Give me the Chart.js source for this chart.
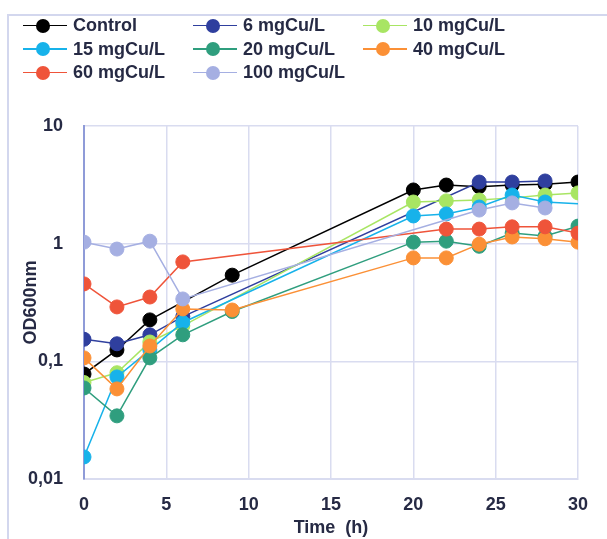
<!DOCTYPE html>
<html>
<head>
<meta charset="utf-8">
<script src="https://cdn.jsdelivr.net/npm/chart.js@4"></script>
<style>
  html, body { margin: 0; padding: 0; background: #fff; overflow: hidden; }
  #wrap { position: relative; width: 607px; height: 539px; }
  #frame { position: absolute; left: 7px; top: 14px; width: 700px; height: 600px;
           border: 2px solid #d3d7ee; box-sizing: border-box; }
  #chart { position: absolute; left: 0; top: 0; }
  #legend { position: absolute; left: 23px; top: 14px;
            display: grid; grid-template-columns: repeat(3, 170px); grid-auto-rows: 23.5px;
            font: bold 18px "Liberation Sans", Arial, sans-serif; color: #262a44; }
  .item { display: flex; align-items: center; white-space: nowrap; }
  .key { position: relative; width: 44px; height: 16px; margin-right: 6px; }
  .key .ln { position: absolute; left: 0; right: 0; top: 7px; height: 1.5px; }
  .key .dot { position: absolute; left: 13px; top: 1px; width: 14px; height: 14px; border-radius: 50%; }
</style>
</head>
<body>
<div id="wrap">
  <div id="frame"></div>
  <canvas id="chart" width="607" height="539"></canvas>
  <div id="legend"></div>
</div>
<script>
// sampling times (h)
const hours = [0, 2, 4, 6, 9, 20, 22, 24, 26, 28, 30];

// OD600 per copper level, null = not sampled
const control = [0.078, 0.125, 0.225, null, 0.54, 2.86, 3.15, 3.05, 3.15, 3.2, 3.34];
const cu6     = [0.154, 0.141, 0.168, 0.24, null, null, null, 3.34, 3.34, 3.41, null];
const cu10    = [0.066, 0.080, 0.146, 0.2, null, 2.26, 2.31, 2.35, 2.45, 2.59, 2.70];
const cu15    = [0.0154, 0.0737, 0.125, 0.214, null, 1.72, 1.79, 2.05, 2.59, 2.26, 2.18];
const cu20    = [0.0594, 0.0344, 0.107, 0.168, 0.265, 1.03, 1.05, 0.95, 1.23, 1.16, 1.41];
const cu40    = [0.107, 0.0583, 0.135, 0.279, 0.273, 0.757, 0.757, 0.99, 1.14, 1.10, 1.03];
const cu60    = [0.455, 0.29, 0.352, 0.70, null, null, 1.33, 1.33, 1.39, 1.39, 1.23];
const cu100   = [1.03, 0.90, 1.05, 0.339, null, null, null, 1.93, 2.22, 2.01, null];

const seriesNames = ["Control", "6 mgCu/L", "10 mgCu/L", "15 mgCu/L", "20 mgCu/L", "40 mgCu/L", "60 mgCu/L", "100 mgCu/L"];
const seriesValues = [control, cu6, cu10, cu15, cu20, cu40, cu60, cu100];
const seriesColors = ["#000000", "#2f3f9e", "#a8e563", "#17b2ea", "#2f9e7e", "#fb9036", "#ef543a", "#a5afe2"];

const yTicks = [0.01, 0.1, 1, 10];
const yTickText = ["0,01", "0,1", "1", "10"];

const font = { family: "'Liberation Sans', Arial, sans-serif", size: 18, weight: "bold" };
const ink = "#262a44";

const datasets = seriesNames.map(function (name, i) {
  return {
    label: name,
    data: hours.map(function (h, k) { return { x: h, y: seriesValues[i][k] }; })
               .filter(function (p) { return p.y !== null; }),
    borderColor: seriesColors[i],
    backgroundColor: seriesColors[i],
    borderWidth: 1.5,
    pointBackgroundColor: seriesColors[i],
    pointBorderColor: seriesColors[i],
    pointBorderWidth: 1,
    // last 15 mgCu/L reading has no marker
    pointRadius: function (ctx) {
      return (i === 3 && ctx.raw && ctx.raw.x === 30) ? 0 : 7;
    },
    tension: 0,
    order: seriesNames.length - i   // later series drawn on top
  };
});

const chart = new Chart(document.getElementById("chart"), {
  type: "line",
  data: { datasets: datasets },
  options: {
    responsive: false,
    animation: false,
    layout: { padding: { top: 126, right: 29, left: 0, bottom: 0 } },
    plugins: { legend: { display: false }, tooltip: { enabled: false } },
    scales: {
      x: {
        type: "linear",
        min: 0, max: 30,
        ticks: { stepSize: 5, color: ink, font: font, padding: 15 },
        grid: { color: "#d9dcf0", lineWidth: 1.5, drawTicks: false },
        border: { color: "#d9dcf0", width: 2 },
        title: { display: true, text: "Time  (h)", color: ink, font: font, padding: { top: 1, bottom: 0 } },
        afterFit: function (s) { s.height = 60; }
      },
      y: {
        type: "logarithmic",
        min: 0.01, max: 10,
        afterBuildTicks: function (s) { s.ticks = yTicks.map(function (v) { return { value: v }; }); },
        ticks: {
          color: ink, font: font, padding: 21,
          callback: function (v) { const k = yTicks.indexOf(v); return k < 0 ? "" : yTickText[k]; }
        },
        grid: { color: "#d9dcf0", lineWidth: 1.5, drawTicks: false },
        border: { color: "#8f9bd8", width: 2 },
        title: { display: true, text: "OD600nm", color: ink, font: font, padding: { top: 20, bottom: 0 } },
        afterFit: function (s) { s.width = 84; }
      }
    }
  }
});

// legend in three columns, built from the chart's datasets
const legend = document.getElementById("legend");
chart.data.datasets.forEach(function (ds) {
  const item = document.createElement("div");
  item.className = "item";
  item.innerHTML = '<span class="key"><span class="ln" style="background:' + ds.borderColor + '"></span>' +
                   '<span class="dot" style="background:' + ds.borderColor + '"></span></span>' +
                   '<span>' + ds.label + '</span>';
  legend.appendChild(item);
});
</script>
</body>
</html>
